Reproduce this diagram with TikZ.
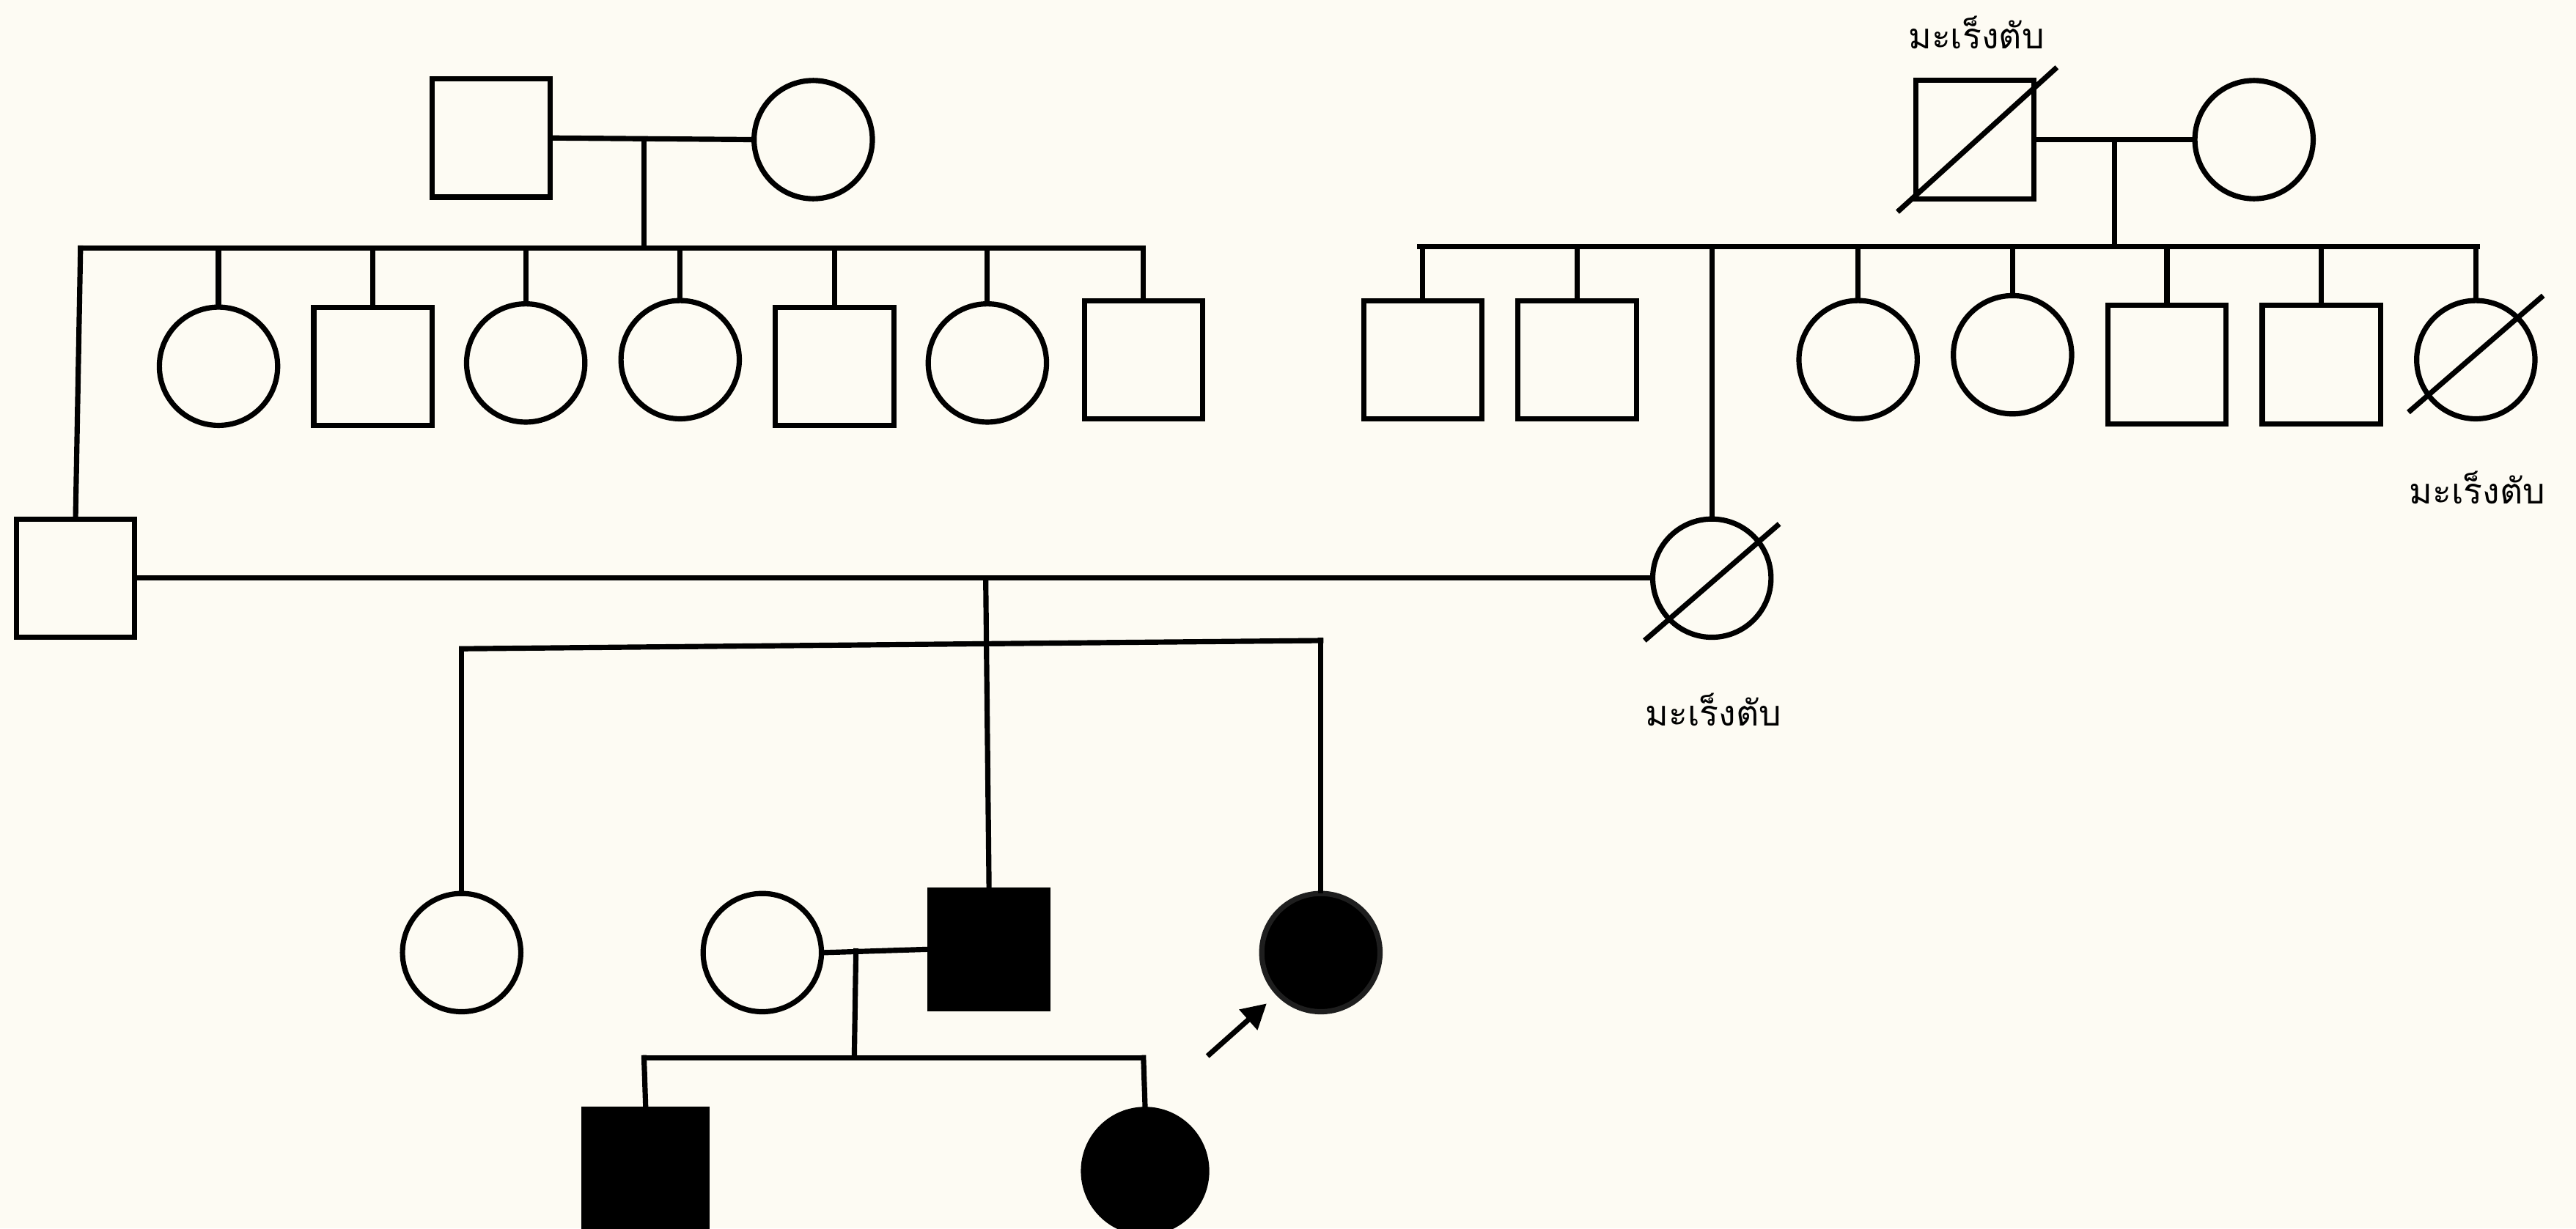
\documentclass[tikz,border=0pt]{standalone}
\usepackage{fontspec}
\newfontfamily\thaifont[Script=Thai]{Loma}
\usetikzlibrary{calc,arrows.meta}
\definecolor{bgcream}{RGB}{253,251,243}
\begin{document}
\begin{tikzpicture}[x=1pt,y=-1pt,
  line width=3.2pt,
  male/.style={draw, rectangle, minimum size=72pt, inner sep=0pt, line width=3.2pt},
  female/.style={draw, circle, minimum size=72pt, inner sep=0pt, line width=3.2pt},
  affected/.style={fill=black},
  conn/.style={line width=3.2pt, line cap=rect},
  lbl/.style={font=\thaifont\fontsize{21.5}{26}\selectfont, inner sep=0pt}]
\fill[bgcream] (0,0) rectangle (1568,748);
\useasboundingbox (0,0) rectangle (1568,748);

% ---------- left grandparents ----------
\node[male] (gpa) at (299,84) {};
\node[female] (gma) at (495,85) {};
\coordinate (mA) at (392,86);
\coordinate (barAl) at (49,151);
\coordinate (barAr) at (695,151);
\draw[conn] (gpa.east) -- (gma.west);
\draw[conn] (mA) -- (mA |- barAl);
\draw[conn] (barAl) -- (barAr);

\node[female] (a1) at (133,223) {};
\node[male]   (a2) at (227,223) {};
\node[female] (a3) at (320,221) {};
\node[female] (a4) at (414,219) {};
\node[male]   (a5) at (508,223) {};
\node[female] (a6) at (601,221) {};
\node[male]   (a7) at (696,219) {};
\foreach \n in {a1,a2,a3,a4,a5,a6,a7}{
  \draw[conn] (\n.north |- barAl) -- (\n.north);
}

% husband
\node[male] (H) at (46,352) {};
\draw[conn] (barAl) -- (H.north);

% ---------- right grandparents ----------
\node[male] (gpb) at (1202,85) {};
\draw[line width=3.2pt] ($(gpb.center)+(-47,44)$) -- ($(gpb.center)+(50,-44)$);
\node[lbl] (lb1) at (1203,20) {มะเร็งตับ};
\node[female] (gmb) at (1372,85) {};
\coordinate (mB) at (1287,86);
\coordinate (barBl) at (864,150);
\coordinate (barBr) at (1508,150);
\draw[conn] (gpb.east) -- (gmb.west);
\draw[conn] (mB) -- (mB |- barBl);
\draw[conn] (barBl) -- (barBr);

\node[male]   (b1) at (866,219) {};
\node[male]   (b2) at (960,219) {};
\node[female] (W)  at (1042,352) {};
\node[female] (b4) at (1131,219) {};
\node[female] (b5) at (1225,216) {};
\node[male]   (b6) at (1319,222) {};
\node[male]   (b7) at (1413,222) {};
\node[female] (b8) at (1507,219) {};
\foreach \n in {b1,b2,W,b4,b5,b6,b7,b8}{
  \draw[conn] (\n.north |- barBl) -- (\n.north);
}
\draw[line width=3.2pt] ($(b8.center)+(-41,32)$) -- ($(b8.center)+(41,-39)$);
\node[lbl] (lb2) at (1508,297) {มะเร็งตับ};
\draw[line width=3.2pt] ($(W.center)+(-41,38)$) -- ($(W.center)+(41,-33)$);
\node[lbl] (lb3) at (1043,432) {มะเร็งตับ};

% ---------- marriage H - W ----------
\draw[conn] (H.east) -- (W.west);
\coordinate (mC) at (600,352);
\coordinate (barCl) at (281,395);
\coordinate (barCr) at (804,390);

\node[female] (c1) at (281,580) {};
\node[male, affected] (c2) at (602,578) {};
\node[female] (sp) at (464,580) {};
\node[female, fill=black, draw={rgb,255:red,30;green,30;blue,30}] (c3) at (804,580) {};

\draw[conn] (mC) -- (c2.north);
\draw[conn] (barCl) -- (barCr);
\draw[conn] (barCl) -- (c1.north);
\draw[conn] (barCr) -- (c3.north);

% ---------- gen 4 ----------
\draw[conn] (sp.east) -- (c2.west);
\coordinate (mD) at (521,579);
\coordinate (barDl) at (392,644);
\coordinate (barDr) at (696,644);
\draw[conn] (mD) -- (520,644);
\draw[conn] (barDl) -- (barDr);
\node[male, affected, minimum size=75pt] (d1) at (393,713) {};
\node[female, affected, minimum size=75pt] (d2) at (697,713) {};
\draw[conn] (barDl) -- (d1.north);
\draw[conn] (barDr) -- (d2.north);

% proband arrow
\coordinate (arS) at (735,643);
\coordinate (arE) at (771,611);
\draw[line width=3.2pt, -{Triangle[length=15pt,width=16pt]}] (arS) -- (arE);
\end{tikzpicture}
\end{document}
